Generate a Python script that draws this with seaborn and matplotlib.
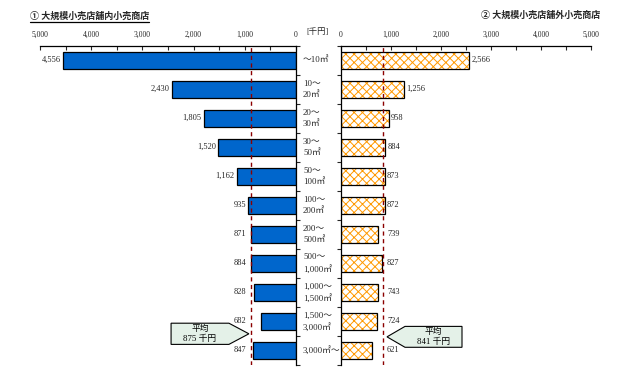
import numpy as np
import matplotlib
matplotlib.use("Agg")
import matplotlib.pyplot as plt
import matplotlib.transforms as mtransforms
from matplotlib.patches import Polygon
from matplotlib.lines import Line2D
import seaborn as sns

# ---------------- data ----------------
categories = ["～10㎡", "10～\n20㎡", "20～\n30㎡", "30～\n50㎡", "50～\n100㎡",
              "100～\n200㎡", "200～\n500㎡", "500～\n1,000㎡", "1,000～\n1,500㎡",
              "1,500～\n3,000㎡", "3,000㎡～"]
inside_values = [4556, 2430, 1805, 1520, 1162, 935, 871, 884, 828, 682, 847]
outside_values = [2566, 1256, 958, 884, 873, 872, 739, 827, 743, 724, 621]
avg_inside = 875
avg_outside = 841
title_left = "① 大規模小売店舗内小売商店"
title_right = "② 大規模小売店舗外小売商店"
unit_label = "[千円]"
x_ticks_major = [0, 1000, 2000, 3000, 4000, 5000]
x_tick_labels = ["0", "1,000", "2,000", "3,000", "4,000", "5,000"]

# ---------------- style ----------------
sns.set_style("white")
FONT = ["Liberation Serif", "Noto Sans CJK JP"]
plt.rcParams["font.family"] = FONT
plt.rcParams["hatch.linewidth"] = 0.7

W, H = 629, 375
fig = plt.figure(figsize=(W / 100, H / 100), dpi=100)
top_px, bot_px = 45.7, 365
axL = fig.add_axes([40 / W, 1 - bot_px / H, 256 / W, (bot_px - top_px) / H])
axR = fig.add_axes([341 / W, 1 - bot_px / H, 250 / W, (bot_px - top_px) / H])

BLUE = "#0066CC"
ORANGE = "#FF9900"
AVG = "#8B0000"
BW = 0.58

# left panel
sns.barplot(x=inside_values, y=categories, orient="h", color=BLUE,
            edgecolor="black", linewidth=0.9, width=BW, saturation=1, ax=axL)
# right panel: hatch layer + outline layer
sns.barplot(x=outside_values, y=categories, orient="h", color="white",
            linewidth=0, width=BW, saturation=1, ax=axR)
for p in axR.patches:
    p.set_hatch("xxxx")
    p.set_edgecolor(ORANGE)
    p.set_linewidth(0)
sns.barplot(x=outside_values, y=categories, orient="h", color="black",
            fill=False, linewidth=0.9, width=BW, ax=axR)

for ax in (axL, axR):
    ax.set_ylim(10.5, -0.5)
    ax.set_xlabel("")
    ax.set_ylabel("")
    ax.xaxis.tick_top()
    ax.set_xticks(x_ticks_major)
    ax.set_xticklabels(x_tick_labels, fontsize=5.5)
    ax.set_xticks(np.arange(500, 5000, 1000), minor=True)
    ax.tick_params(axis="x", which="both", direction="in", length=3,
                   width=0.8, pad=5, top=True, bottom=False)
    ax.set_yticks(np.arange(-0.5, 11, 1))
    ax.set_yticklabels([])
    for s in ax.spines.values():
        s.set_linewidth(0.9)
        s.set_color("black")
    ax.spines["bottom"].set_visible(False)
    ax.grid(False)

axL.set_xlim(5000, 0)
axR.set_xlim(0, 5000)
axL.spines["left"].set_visible(False)
axL.yaxis.tick_right()
axL.tick_params(axis="y", direction="out", length=3, width=0.8, right=True, left=False)
axR.spines["right"].set_visible(False)
axR.tick_params(axis="y", direction="out", length=3, width=0.8, left=True, right=False)

# average lines
axL.axvline(avg_inside, color=AVG, lw=1, ls=(0, (3, 2.5)))
axR.axvline(avg_outside, color=AVG, lw=1, ls=(0, (3, 2.5)))

# value labels
for i, v in enumerate(inside_values):
    axL.annotate(f"{v:,}", (max(v, 930), i), xytext=(-1.5, 0.5),
                 textcoords="offset points", ha="right", va="center", fontsize=6)
for i, v in enumerate(outside_values):
    axR.annotate(f"{v:,}", (max(v, 880), i), xytext=(1.5, 0.5),
                 textcoords="offset points", ha="left", va="center", fontsize=6)

# category labels between panels
trans = mtransforms.blended_transform_factory(fig.transFigure, axR.transData)
for i, c in enumerate(categories):
    fig.text(303 / W, i, c, transform=trans, ha="left", va="center",
             fontsize=6.3, linespacing=1.45)

# unit label
fig.text(306 / W, 1 - 32 / H, unit_label, ha="left", va="center", fontsize=6)

# titles
tL = fig.text(30 / W, 1 - 16 / H, title_left, ha="left", va="center",
              fontsize=6.5, fontweight="bold")
fig.text(600 / W, 1 - 15 / H, title_right, ha="right", va="center",
         fontsize=6.5, fontweight="bold")
fig.canvas.draw()
bb = tL.get_window_extent().transformed(fig.transFigure.inverted())
fig.add_artist(Line2D([bb.x0, bb.x1], [bb.y0 - 0.004, bb.y0 - 0.004],
                      transform=fig.transFigure, color="black", lw=0.9))

# callouts
def callout(ax, tip_x, body_x0, body_x1, y0, y1, text):
    ym = (y0 + y1) / 2
    pts = [(tip_x, ym), (body_x0, y0), (body_x1, y0), (body_x1, y1), (body_x0, y1)]
    box = Polygon(pts, closed=True, facecolor="#E4F1E8", edgecolor="black",
                  lw=0.8, clip_on=False, zorder=5)
    ax.add_patch(box)
    ax.text((body_x0 + body_x1) / 2, ym, text, ha="center", va="center",
            fontsize=6.3, linespacing=1.3, zorder=7, color="black")

callout(axL, 920, 1310, 2440, 9.06, 9.79, f"平均\n{avg_inside} 千円")
callout(axR, 920, 1280, 2420, 9.17, 9.89, f"平均\n{avg_outside} 千円")

fig.savefig("out.png", dpi=100)
